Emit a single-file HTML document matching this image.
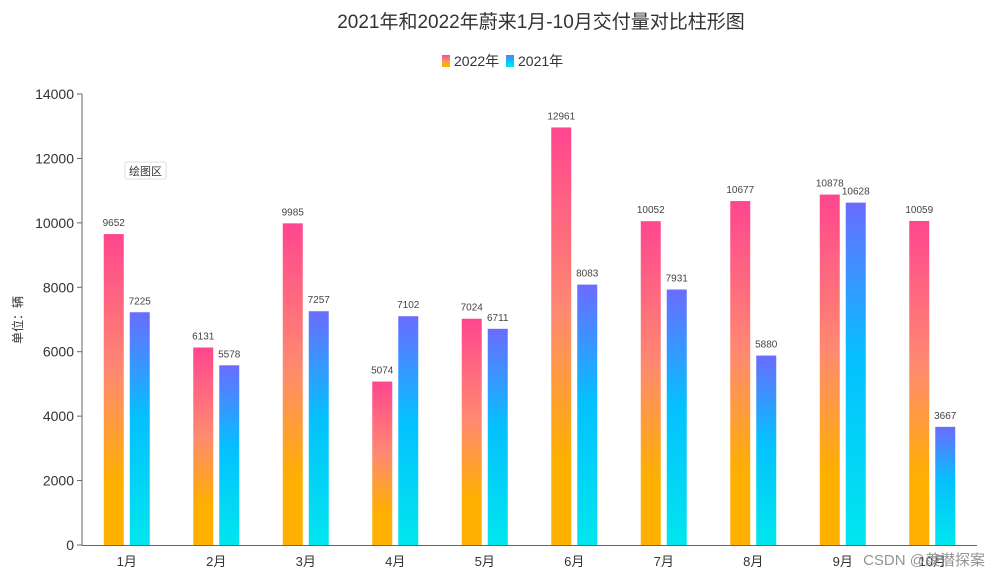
<!DOCTYPE html>
<html><head><meta charset="utf-8"><style>
body{margin:0;background:#fff;font-family:"Liberation Sans","Noto Sans CJK SC",sans-serif}
</style></head><body>
<svg width="1000" height="578" font-family="Liberation Sans, Noto Sans CJK SC, sans-serif">
<defs>
<linearGradient id="g22" x1="0" y1="0" x2="0" y2="1"><stop offset="0" stop-color="#ff468f"/><stop offset="0.45" stop-color="#ff8a70"/><stop offset="0.8" stop-color="#ffb000"/><stop offset="1" stop-color="#ffb000"/></linearGradient>
<linearGradient id="g21" x1="0" y1="0" x2="0" y2="1"><stop offset="0" stop-color="#6a6cff"/><stop offset="0.45" stop-color="#05c0ff"/><stop offset="1" stop-color="#00e6ee"/></linearGradient>
</defs>
<text x="541" y="28" text-anchor="middle" font-size="19" fill="#333">2021年和2022年蔚来1月-10月交付量对比柱形图</text>
<g>
<rect x="442" y="55" width="8" height="12" fill="url(#g22)"/>
<text x="454" y="66" font-size="14" fill="#333">2022年</text>
<rect x="506" y="55" width="8" height="12" fill="url(#g21)"/>
<text x="518" y="66" font-size="14" fill="#333">2021年</text>
</g>
<text transform="translate(22,320) rotate(-90)" text-anchor="middle" font-size="12" fill="#333">单位：辆</text>
<g><rect x="125" y="162" width="41" height="17" rx="2" fill="#fff" stroke="#ddd"/><text x="145.5" y="175" text-anchor="middle" font-size="11" fill="#333">绘图区</text></g>
<g id="ax"></g><g id="bars"></g>
<text x="985" y="565" text-anchor="end" font-size="15" fill="#888" opacity="0.9">CSDN @羡潜探案</text>
</svg>
<script>
const months=["1月","2月","3月","4月","5月","6月","7月","8月","9月","10月"];
const v2022=[9652,6131,9985,5074,7024,12961,10052,10677,10878,10059];
const v2021=[7225,5578,7257,7102,6711,8083,7931,5880,10628,3667];
const yTicks=[0,2000,4000,6000,8000,10000,12000,14000];
const NS="http://www.w3.org/2000/svg";
const X0=82,X1=977,Y0=545,Y1=94,YMAX=14000;
const y=v=>Y0-(v/YMAX)*(Y0-Y1);
const cw=(X1-X0)/months.length;
const cx=i=>X0+cw*(i+0.5);
function mk(t,a,p){const e=document.createElementNS(NS,t);for(const k in a)e.setAttribute(k,a[k]);p.appendChild(e);return e;}
const ax=document.getElementById('ax'),bars=document.getElementById('bars');
let l=mk('line',{x1:X0,y1:Y1,x2:X0,y2:Y0,stroke:'#666'},ax);


l=mk('line',{x1:X0,y1:Y0+0.5,x2:X1,y2:Y0+0.5,stroke:'#666'},ax);


yTicks.forEach(t=>{
 mk('line',{x1:X0-5,y1:y(t),x2:X0,y2:y(t),stroke:'#666'},ax);
 const e=mk('text',{x:X0-8,y:y(t)+5,'text-anchor':'end','font-size':14,fill:'#333'},ax);e.textContent=t;
 
 
});
months.forEach((m,i)=>{
 const e=mk('text',{x:cx(i),y:Y0+21,'text-anchor':'middle','font-size':13,fill:'#333'},ax);e.textContent=m;
 
 
 [[v2022[i],-13,'g22','bar-2022'],[v2021[i],13,'g21','bar-2021']].forEach(([v,o,g,n])=>{
  const r=mk('rect',{x:cx(i)+o-10,y:y(v),width:20,height:Y0-y(v),fill:`url(#${g})`},bars);
  
  
  const t=mk('text',{x:cx(i)+o,y:y(v)-8,'text-anchor':'middle','font-size':10,fill:'#444'},bars);t.textContent=v;
  
  
 });
});
</script>
</body></html>
